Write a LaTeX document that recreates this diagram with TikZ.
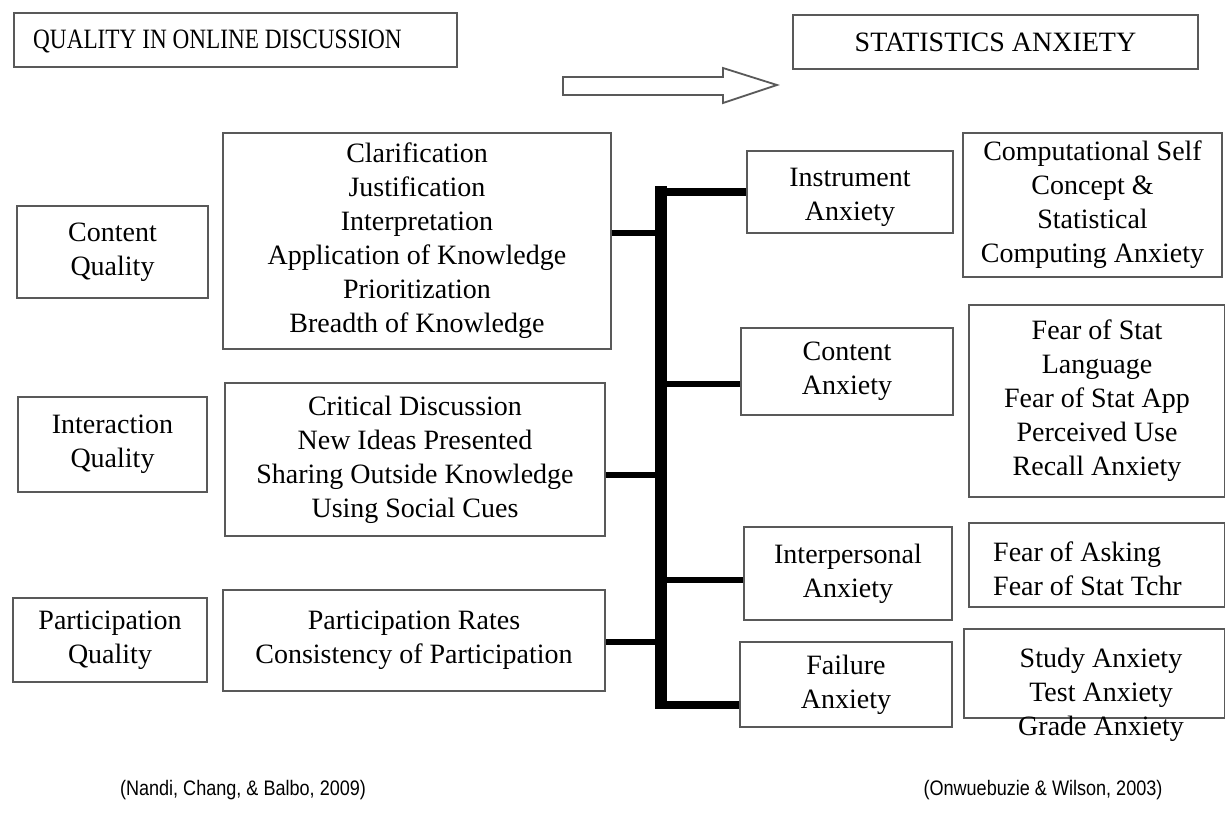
\documentclass[tikz,border=0pt]{standalone}
\usepackage{fontspec}
\usepackage{graphicx}
\setmainfont{Liberation Serif}
\newfontfamily\citefont[FakeStretch=0.86]{Liberation Sans}
\begin{document}
\begin{tikzpicture}[x=1pt,y=-1pt,
  box/.style={draw=black!65, line width=1.8pt, inner sep=0pt, align=center,
    font=\fontsize{28}{34}\selectfont},
  plain/.style={inner sep=0pt, align=center, font=\fontsize{28}{34}\selectfont},
  cite/.style={inner sep=0pt, font=\citefont\fontsize{21}{24}\selectfont},
  branch/.style={line width=6pt, black},
  spineline/.style={line width=12pt, black},
  bigarrow/.style={draw=black!65, line width=1.8pt, fill=white, line join=miter}]
\useasboundingbox (0,0) rectangle (1225,820);

% titles
\node[box, minimum width=443, minimum height=54] (qtitle) at (235.5,40) {};
\node[plain, anchor=west] (qtext) at (33,41)
  {\scalebox{0.83}[1]{QUALITY IN ONLINE DISCUSSION}};
\node[box, minimum width=405, minimum height=54] (stitle) at (995.5,42) {STATISTICS ANXIETY};

% hollow block arrow
\draw[bigarrow] (563,77) -- (723,77) -- (723,68) -- (777,85) -- (723,103) -- (723,95) -- (563,95) -- cycle;

% left column
\node[box, minimum width=191, minimum height=92] (cq) at (112.5,252) {Content\\Quality};
\node[box, minimum width=189, minimum height=95] (iq) at (112.5,444.5) {Interaction\\Quality};
\node[box, minimum width=194, minimum height=84] (pq) at (110,640) {Participation\\Quality};

% middle-left column
\node[box, minimum width=388, minimum height=216] (clar) at (417,241)
  {Clarification\\Justification\\Interpretation\\Application of Knowledge\\Prioritization\\Breadth of Knowledge};
\node[box, minimum width=380, minimum height=153] (crit) at (415,459.5)
  {Critical Discussion\\New Ideas Presented\\Sharing Outside Knowledge\\Using Social Cues};
\node[box, minimum width=382, minimum height=101] (prates) at (414,640.5)
  {Participation Rates\\Consistency of Participation};

% middle-right column
\node[box, minimum width=206, minimum height=82] (instr) at (850,192) {};
\node[plain] (instrtxt) at (850,197) {Instrument\\Anxiety};
\node[box, minimum width=212, minimum height=87] (canx) at (847,371.5) {Content\\Anxiety};
\node[box, minimum width=208, minimum height=93] (ianx) at (848,573.5) {Interpersonal\\Anxiety};
\node[box, minimum width=212, minimum height=85] (fanx) at (846,684.5) {Failure\\Anxiety};

% right column
\node[box, minimum width=259, minimum height=144] (comp) at (1092.5,205)
  {Computational Self\\Concept \&\\Statistical\\Computing Anxiety};
\node[box, minimum width=256, minimum height=192] (fstat) at (1097,401)
  {Fear of Stat\\Language\\Fear of Stat App\\Perceived Use\\Recall Anxiety};
\node[box, minimum width=256, minimum height=84] (fask) at (1097,565) {};
\node[plain, align=left, anchor=west] (fasktxt) at (993,569) {Fear of Asking\\Fear of Stat Tchr};
\node[box, minimum width=261, minimum height=89] (study) at (1094.5,673.5) {};
\node[plain] (studytxt) at (1101,695) {Study Anxiety\\Test Anxiety\\Grade Anxiety};

% spine and branches
\coordinate (sTop) at (661,186);
\coordinate (sBot) at (661,709);
\coordinate (j1) at (661,233);
\coordinate (j2) at (661,475);
\coordinate (j3) at (661,642);
\coordinate (k0) at (655,192);
\coordinate (k1) at (661,384);
\coordinate (k2) at (661,580);
\coordinate (k3) at (655,705);
\draw[spineline] (sTop) -- (sBot);
\draw[branch] (j1 -| clar.east) -- (j1);
\draw[branch] (j2 -| crit.east) -- (j2);
\draw[branch] (j3 -| prates.east) -- (j3);
\draw[branch, line width=8pt] (k0) -- (k0 -| instr.west);
\draw[branch] (k1) -- (k1 -| canx.west);
\draw[branch] (k2) -- (k2 -| ianx.west);
\draw[branch, line width=8pt] (k3) -- (k3 -| fanx.west);

% citations
\node[cite] (cite1) at (243,790) {(Nandi, Chang, \& Balbo, 2009)};
\node[cite] (cite2) at (1043,790) {(Onwuebuzie \& Wilson, 2003)};
\end{tikzpicture}
\end{document}
